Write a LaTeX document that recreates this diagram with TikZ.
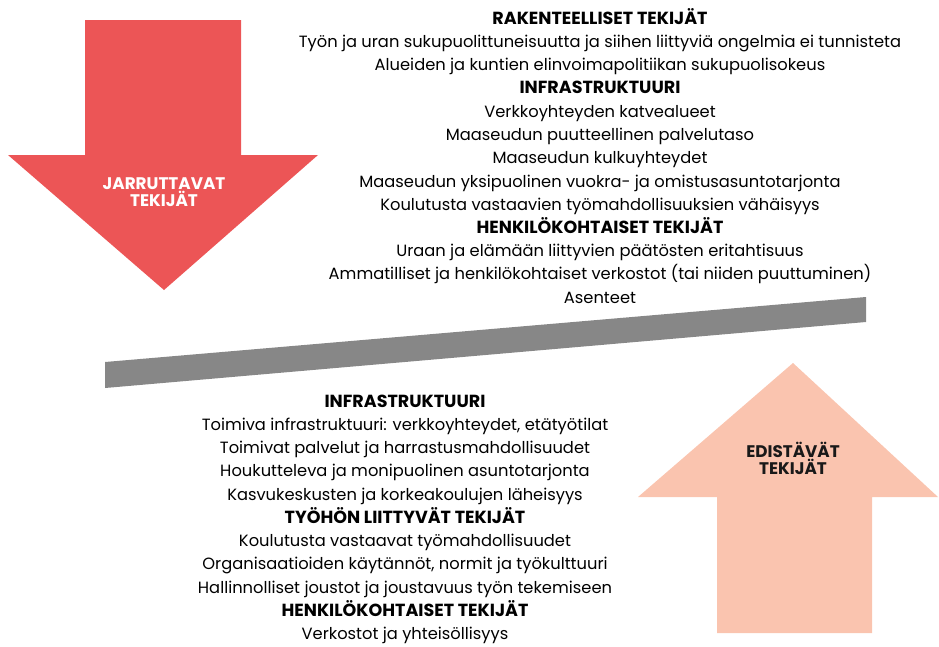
\documentclass[tikz,border=0pt]{standalone}
\usepackage{fontspec}
\setmainfont{Poppins}
\usepackage{xcolor}
\usepackage{tikz}
\usetikzlibrary{positioning}

\definecolor{brakered}{HTML}{EC5556}
\definecolor{pushpeach}{HTML}{FAC4AF}
\definecolor{beamgrey}{HTML}{878787}

\tikzset{
    item/.style={anchor=base, inner sep=0pt, font=\fontsize{16.3}{18}\selectfont},
    head/.style={item, font=\fontsize{17.5}{18}\selectfont\bfseries},
    tag/.style={anchor=center, inner sep=0pt, align=center, font=\fontsize{16.8}{17}\selectfont\bfseries},
}

\begin{document}
\begin{tikzpicture}[x=1pt, y=-1pt]
    \useasboundingbox (0,0) rectangle (939,646);
    % arrows and beam
    \fill[brakered] (85,20) -- (241,20) -- (241,155) -- (318,155) -- (164,290) -- (8,155) -- (85,155) -- cycle;
    \fill[pushpeach] (793,363) -- (938,497) -- (872,497) -- (872,633) -- (717,633) -- (717,497) -- (638,497) -- cycle;
    \fill[beamgrey] (105,362) -- (866,297) -- (866,322) -- (105,388) -- cycle;
    \node[tag, text=white] (brake) at (164,192) {JARRUTTAVAT\\TEKIJÄT};
    \node[tag, text=black!90] (push) at (793,458) {EDISTÄVÄT\\TEKIJÄT};
    % top block
    \node[head] (top_1) at (600,24) {RAKENTEELLISET TEKIJÄT};
    \node[item] (top_2) at (600,47) {Työn ja uran sukupuolittuneisuutta ja siihen liittyviä ongelmia ei tunnisteta};
    \node[item] (top_3) at (600,70) {Alueiden ja kuntien elinvoimapolitiikan sukupuolisokeus};
    \node[head] (top_4) at (600,93) {INFRASTRUKTUURI};
    \node[item] (top_5) at (600,117) {Verkkoyhteyden katvealueet};
    \node[item] (top_6) at (600,140) {Maaseudun puutteellinen palvelutaso};
    \node[item] (top_7) at (600,163) {Maaseudun kulkuyhteydet};
    \node[item] (top_8) at (600,187) {Maaseudun yksipuolinen vuokra- ja omistusasuntotarjonta};
    \node[item] (top_9) at (600,210) {Koulutusta vastaavien työmahdollisuuksien vähäisyys};
    \node[head] (top_10) at (600,233) {HENKILÖKOHTAISET TEKIJÄT};
    \node[item] (top_11) at (600,256) {Uraan ja elämään liittyvien päätösten eritahtisuus};
    \node[item] (top_12) at (600,279) {Ammatilliset ja henkilökohtaiset verkostot (tai niiden puuttuminen)};
    \node[item] (top_13) at (600,303) {Asenteet};
    % bottom block
    \node[head] (bot_1) at (405,407) {INFRASTRUKTUURI};
    \node[item] (bot_2) at (405,430) {Toimiva infrastruktuuri: verkkoyhteydet, etätyötilat};
    \node[item] (bot_3) at (405,453) {Toimivat palvelut ja harrastusmahdollisuudet};
    \node[item] (bot_4) at (405,476) {Houkutteleva ja monipuolinen asuntotarjonta};
    \node[item] (bot_5) at (405,500) {Kasvukeskusten ja korkeakoulujen läheisyys};
    \node[head] (bot_6) at (405,523) {TYÖHÖN LIITTYVÄT TEKIJÄT};
    \node[item] (bot_7) at (405,546) {Koulutusta vastaavat työmahdollisuudet};
    \node[item] (bot_8) at (405,569) {Organisaatioiden käytännöt, normit ja työkulttuuri};
    \node[item] (bot_9) at (405,593) {Hallinnolliset joustot ja joustavuus työn tekemiseen};
    \node[head] (bot_10) at (405,616) {HENKILÖKOHTAISET TEKIJÄT};
    \node[item] (bot_11) at (405,639) {Verkostot ja yhteisöllisyys};
\end{tikzpicture}
\end{document}
